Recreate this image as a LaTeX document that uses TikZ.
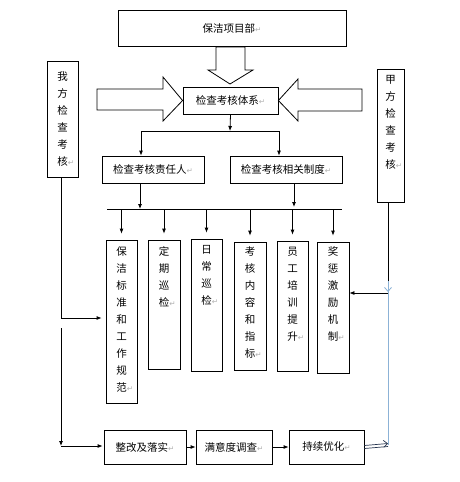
\documentclass[tikz,border=0pt]{standalone}
\usepackage{fontspec}
\newfontfamily\cjk{Noto Sans CJK SC}
\newfontfamily\symf{DejaVu Sans}
\usetikzlibrary{arrows.meta}
\definecolor{lblue}{RGB}{140,178,214}
\definecolor{dblue}{RGB}{40,55,80}
\newcommand\rt{\textcolor{gray!60}{\symf\fontsize{7.5}{7.5}\selectfont ↵}}
\newcommand\rtl{\rlap{\rt}}
\begin{document}
\begin{tikzpicture}[x=1pt,y=-1pt,
  box/.style={draw,line width=0.8pt,inner sep=0pt},
  txt/.style={font=\cjk\fontsize{10.5}{17}\selectfont,align=center,inner sep=0pt},
  arr/.style={-{Latex[length=5pt,width=4pt]},line width=0.8pt},
  ln/.style={line width=0.8pt},
  hollow/.style={draw,fill=white,line width=0.8pt,line join=miter}]
\useasboundingbox (0,0) rectangle (459,482);
\fill[white] (0,0) rectangle (459,482);
% boxes
\node[box,minimum width=228,minimum height=36] (top) at (232,28) {};
\node[txt] at (top) {保洁项目部\rt};
\node[box,minimum width=95,minimum height=27] (sys) at (230.5,100.5) {};
\node[txt] at (sys) {检查考核体系\rt};
\node[box,minimum width=102,minimum height=27] (resp) at (153,169.5) {};
\node[txt] at (resp) {检查考核责任人\rt};
\node[box,minimum width=112,minimum height=27] (rule) at (286,169.5) {};
\node[txt] at (rule) {检查考核相关制度\rt};
\node[box,minimum width=31,minimum height=116] (wo) at (62.5,119) {};
\node[txt] at (wo) {我\\方\\检\\查\\考\\核\rtl};
\node[box,minimum width=27,minimum height=133] (jia) at (390.5,135.5) {};
\node[txt,anchor=north] at ([yshift=-7]jia.north) {甲\\方\\检\\查\\考\\核\rtl};
% six boxes
\node[box,minimum width=31,minimum height=163] (b1) at (121.5,321.5) {};
\node[txt,anchor=north] at ([yshift=-7]b1.north) {保\\洁\\标\\准\\和\\工\\作\\规\\范\rtl};
\node[box,minimum width=32,minimum height=129] (b2) at (164,304.5) {};
\node[txt,anchor=north] at ([yshift=-7]b2.north) {定\\期\\巡\\检\rtl};
\node[box,minimum width=31,minimum height=132] (b3) at (206.5,305) {};
\node[txt,anchor=north] at ([yshift=-7]b3.north) {日\\常\\巡\\检\rtl};
\node[box,minimum width=32,minimum height=128] (b4) at (250,306) {};
\node[txt,anchor=north] at ([yshift=-5]b4.north) {考\\核\\内\\容\\和\\指\\标\rtl};
\node[box,minimum width=31,minimum height=130] (b5) at (292.5,306) {};
\node[txt,anchor=north] at ([yshift=-6]b5.north) {员\\工\\培\\训\\提\\升\rtl};
\node[box,minimum width=32,minimum height=131] (b6) at (333,307.5) {};
\node[txt,anchor=north] at ([yshift=-5]b6.north) {奖\\惩\\激\\励\\机\\制\rtl};
% bottom
\node[box,minimum width=82,minimum height=34] (c1) at (145,447) {};
\node[txt] at (c1) {整改及落实\rt};
\node[box,minimum width=76,minimum height=34] (c2) at (234,447) {};
\node[txt] at (c2) {满意度调查\rt};
\node[box,minimum width=75,minimum height=34] (c3) at (326.5,447) {};
\node[txt] at (c3) {持续优化\rt};
% hollow arrows
\draw[hollow] (216,47) -- (245,47) -- (245,70) -- (253,70) -- (230,84) -- (208,70) -- (216,70) -- cycle;
\draw[hollow] (97,89) -- (163,89) -- (163,77) -- (sys.west) -- (163,121) -- (163,110) -- (97,110) -- cycle;
\draw[hollow] (362,89) -- (298,89) -- (298,79) -- (sys.east) -- (298,121) -- (298,111) -- (362,111) -- cycle;
% tree connectors
\coordinate (j1) at (230,131);
\coordinate (jl) at (141,131);
\coordinate (jr) at (279,131);
\draw[arr] (sys.south) -- (j1);
\draw[ln] (jl) -- (jr);
\draw[arr] (jl) -- (jl |- resp.north);
\draw[arr] (jr) -- (jr |- rule.north);
\coordinate (bl) at (107,209);
\coordinate (br) at (342,209);
\draw[ln] (bl) -- (br);
\draw[arr] (resp.south -| 140,0) -- (140,209);
\draw[arr] (rule.south -| 294,0) -- (294,207);
\foreach \b in {b1,b2,b3,b4,b5,b6}{
  \draw[arr,shorten >=6pt] (\b.north |- bl) -- (\b.north);
}
% left side
\coordinate (w1) at (61,318);
\coordinate (w2) at (61,328);
\coordinate (w3) at (61,446);
\draw[ln] (wo.south -| w1) -- (w1);
\draw[arr,shorten >=4pt] (w1) -- (w1 -| b1.west);
\draw[arr] (w2) -- (w3);
\draw[arr,shorten >=1pt] (w3) -- (w3 -| c1.west);
% bottom chain
\draw[arr] (c1.east) -- (c2.west);
\draw[arr] (c2.east) -- (c3.west);
% right side
\coordinate (r1) at (388,293);
\coordinate (r2) at (388,445);
\draw[ln] (jia.south -| r1) -- (r1);
\draw[arr] (r1) -- (r1 -| b6.east);
\draw[line width=0.8pt,color=lblue] (r2) -- ([yshift=2]r1);
\draw[line width=0.8pt,color=lblue,-{Straight Barb[length=4pt,width=7pt]}] ([yshift=12]r1) -- ([yshift=1]r1);
\draw[line width=0.7pt,color=dblue] ([yshift=-1.5]c3.east) -- ([yshift=-1.5]r2);
\draw[line width=0.7pt,color=dblue,-{Straight Barb[length=4pt,width=7pt]}] ([yshift=1.5]c3.east) -- ([yshift=1.5]r2);
\end{tikzpicture}
\end{document}
